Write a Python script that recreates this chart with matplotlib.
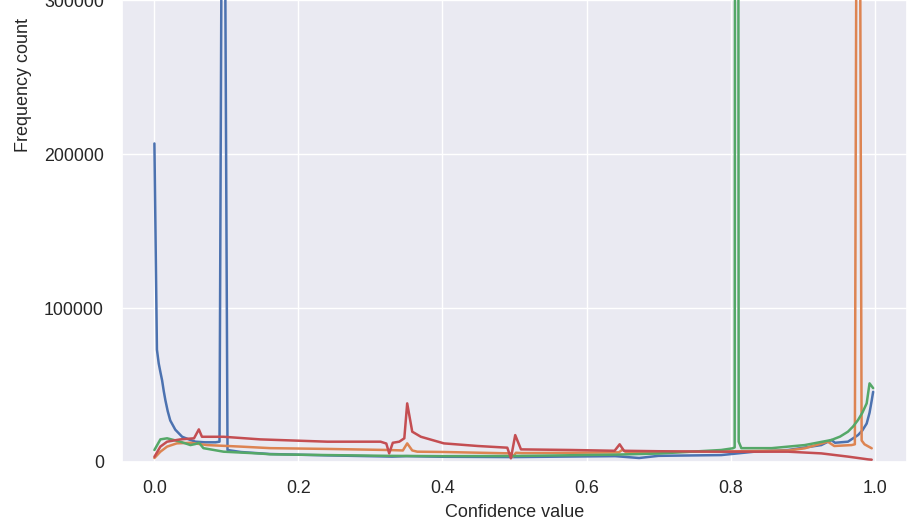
import numpy as np
import matplotlib
matplotlib.use("Agg")
import matplotlib.pyplot as plt
import seaborn as sns

# confidence histograms, one line per model
blue_x = [0.0, 0.0035, 0.006, 0.0085, 0.0107, 0.013, 0.0153, 0.0185, 0.022, 0.029, 0.0385, 0.05,
          0.057, 0.07, 0.085, 0.0904, 0.0955, 0.1015, 0.12, 0.16, 0.24, 0.32, 0.33, 0.35, 0.40,
          0.5, 0.565, 0.64, 0.673, 0.70, 0.787, 0.833, 0.88, 0.926, 0.94, 0.945, 0.963, 0.977,
          0.983, 0.989, 0.993, 0.996, 0.998]
blue_y = [207000, 73000, 64000, 58000, 53000, 46000, 40000, 33000, 27000, 21000, 16400, 14300,
          13200, 12800, 12800, 13200, 600000, 7800, 6500, 5200, 4300, 3600, 3500, 3800, 3400,
          3200, 3500, 3800, 2600, 4000, 4500, 6700, 7800, 11000, 14300, 12500, 13200, 17500,
          20500, 25000, 32000, 40000, 45600]

orange_x = [0.0, 0.0083, 0.0176, 0.031, 0.05, 0.073, 0.12, 0.161, 0.24, 0.324, 0.345, 0.351,
            0.358, 0.365, 0.402, 0.495, 0.498, 0.502, 0.51, 0.579, 0.645, 0.65, 0.655, 0.70,
            0.787, 0.88, 0.903, 0.935, 0.944, 0.968, 0.9726, 0.9773, 0.982, 0.986, 0.996]
orange_y = [2600, 6700, 10000, 12100, 12500, 11000, 10000, 9000, 8500, 7800, 7500, 12100,
            7500, 6700, 6500, 5600, 3500, 6000, 5800, 6000, 6300, 8000, 6300, 6500,
            6800, 7500, 8900, 13200, 10400, 11000, 11500, 750000, 14000, 11500, 8900]

green_x = [0.0, 0.0083, 0.0176, 0.036, 0.05, 0.057, 0.062, 0.068, 0.096, 0.147, 0.161, 0.24,
           0.324, 0.40, 0.5, 0.565, 0.64, 0.70, 0.787, 0.803, 0.8057, 0.8085, 0.8113, 0.815,
           0.857, 0.903, 0.94, 0.952, 0.963, 0.97, 0.977, 0.983, 0.989, 0.993, 0.998]
green_y = [7800, 14700, 15400, 13200, 11000, 11700, 12500, 9000, 6700, 5500, 5000, 4500,
           4000, 3800, 3900, 4300, 4800, 5500, 7800, 8900, 9500, 2000000, 13200, 9000,
           9000, 11000, 14300, 16500, 19700, 23000, 27300, 32000, 38100, 51100, 48000]

red_x = [0.0, 0.0083, 0.0176, 0.036, 0.055, 0.0617, 0.066, 0.096, 0.147, 0.24, 0.314, 0.322,
         0.326, 0.331, 0.340, 0.347, 0.351, 0.358, 0.37, 0.402, 0.449, 0.49, 0.495, 0.501,
         0.509, 0.579, 0.639, 0.646, 0.652, 0.70, 0.787, 0.88, 0.926, 0.963, 0.991, 0.996]
red_y = [3400, 10000, 13200, 14700, 15400, 21200, 16400, 16400, 14700, 13200, 13200, 12000,
         5600, 12500, 13200, 15400, 38100, 19700, 16400, 12100, 10400, 9300, 2400, 17500,
         8200, 7800, 7300, 11500, 7300, 7000, 6700, 6700, 5600, 3500, 1700, 1500]

sns.set_theme(style="darkgrid", font_scale=1.2)
plt.rcParams['font.family'] = ['Liberation Sans', 'DejaVu Sans']

fig = plt.figure(figsize=(9.18, 5.17), dpi=100)
# axes runs off the top of the canvas, like the cropped original
ax = fig.add_axes([122 / 918, 55 / 517, 785 / 918, 754 / 517])

ax.plot(blue_x, blue_y, lw=1.8)
ax.plot(orange_x, orange_y, lw=1.8)
ax.plot(green_x, green_y, lw=1.8)
ax.plot(red_x, red_y, lw=1.8)

ax.set_xlim(-0.045, 1.045)
ax.set_ylim(0, 490000)
ax.set_xticks(np.arange(0, 1.01, 0.2))
ax.set_yticks(np.arange(0, 400001, 100000))
ax.tick_params(axis='both', length=0, labelsize=12.8, pad=13)

ax.set_xlabel("Confidence value", fontsize=13, labelpad=5)
ax.set_ylabel("Frequency count", fontsize=13, labelpad=9)

fig.savefig("out.png", dpi=100)
